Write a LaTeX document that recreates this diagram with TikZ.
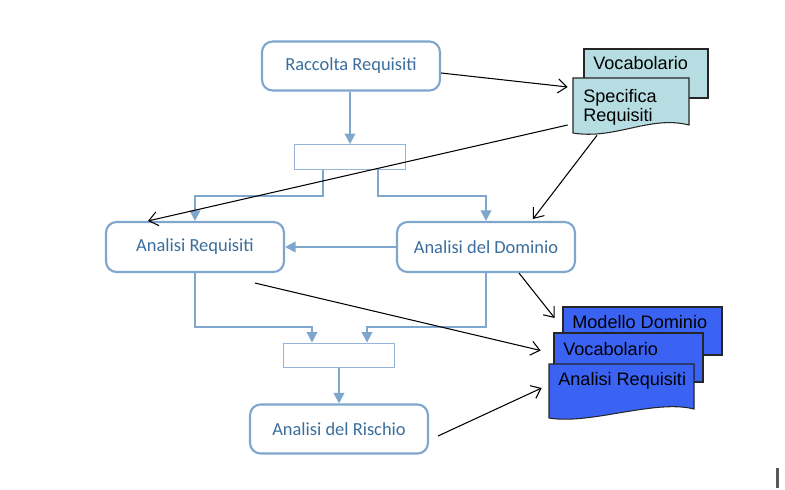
\documentclass[tikz,border=0pt]{standalone}
\usepackage{fontspec}
\setmainfont{Liberation Sans}
\newfontfamily\boxfont{Carlito}
\usetikzlibrary{arrows.meta,fit}

\definecolor{boxedge}{HTML}{7FA6CC}
\definecolor{boxink}{HTML}{3B6E9C}
\definecolor{barline}{HTML}{93B4D6}
\definecolor{paleteal}{HTML}{B6DEE2}
\definecolor{royal}{HTML}{3A63F4}

\tikzset{
  activity/.style={draw=boxedge, line width=1.2pt, rounded corners=6pt, fill=white,
    minimum width=3.56cm, minimum height=0.98cm, text=boxink,
    font=\boxfont\fontsize{10.5}{12}\selectfont},
  joinbar/.style={draw=barline, line width=0.8pt, fill=white,
    minimum width=2.22cm, minimum height=0.49cm},
  flow/.style={draw=boxedge, line width=1.1pt, -{Triangle[length=6pt,width=6pt]}},
  link/.style={black, line width=0.6pt, -{Straight Barb[length=5pt,width=8pt]}},
  sheet/.style={draw=black!85, line width=0.6pt},
  sheettext/.style={font=\fontsize{10.3}{11}\selectfont, align=left, inner sep=0pt},
  frame/.style={inner sep=0pt}
}

\begin{document}
\begin{tikzpicture}[x=0.02cm, y=-0.02cm]
  \useasboundingbox (0,0) rectangle (785,490);

  % Process boxes
  \node[activity] (rq) at (351,66) {Raccolta Requisiti};
  \node[activity, minimum height=1cm] (ar) at (195,247) {Analisi Requisiti};
  \node[activity, minimum height=1cm] (ad) at (486,247) {Analisi del Dominio};
  \node[activity] (rs) at (339,429) {Analisi del Rischio};

  % Fork / join bars
  \node[joinbar] (bar1) at (350,157) {};
  \node[joinbar] (bar2) at (339,355.5) {};

  % Flow
  \draw[flow] ([shift={(-1,0)}]rq.south) -- (bar1.north);
  \draw[flow] ([shift={(-27,0)}]bar1.south) -- ++(0,26) -| (ar.north);
  \draw[flow] ([shift={(28,0)}]bar1.south) -- ++(0,26) -| (ad.north);
  \draw[flow] (ad.west) -- (ar.east);
  \draw[flow] (ar.south) -- ++(0,54) -| ([shift={(-27,0)}]bar2.north);
  \draw[flow] (ad.south) -- ++(0,54) -| ([shift={(28,0)}]bar2.north);
  \draw[flow] (bar2.south) -- (rs.north);

  % Documents (input)
  \filldraw[sheet, fill=paleteal] (584,49) rectangle (708,98);
  \node[frame, fit={(584,49) (708,98)}] (voc) {};
  \node[sheettext, anchor=base west] (voctxt) at (593,70) {Vocabolario};
  \filldraw[sheet, fill=paleteal] (573,78) -- (689,78) -- (689,125)
    .. controls (650,115) and (615,140) .. (573,133) -- cycle;
  \node[frame, fit={(573,78) (689,133)}] (spec) {};
  \node[sheettext, anchor=north west] (spectxt) at (583,89) {Specifica\\Requisiti};

  % Documents (output)
  \filldraw[sheet, fill=royal] (563,307) rectangle (722,355);
  \node[frame, fit={(563,307) (722,355)}] (mdom) {};
  \node[sheettext, anchor=base west] (mdomtxt) at (572,328) {Modello Dominio};
  \filldraw[sheet, fill=royal] (554,333) rectangle (703,382);
  \node[frame, fit={(554,333) (703,382)}] (vocb) {};
  \node[sheettext, anchor=base west] (vocbtxt) at (563,355) {Vocabolario};
  \filldraw[sheet, fill=royal] (549,364) -- (694,364) -- (694,409)
    .. controls (655,399) and (590,425) .. (549,418) -- cycle;
  \node[frame, fit={(549,364) (694,418)}] (anreq) {};
  \node[sheettext, anchor=base west] (anreqtxt) at (558,385) {Analisi Requisiti};

  % Document links
  \draw[link] ([shift={(0,7)}]rq.east) -- ([shift={(-5,-18.5)}]spec.west);
  \draw[link] ([shift={(-5,19.5)}]spec.west) -- ([shift={(-47,0)}]ar.north);
  \draw[link] ([shift={(-34,2)}]spec.south) -- ([shift={(47,-2)}]ad.north);
  \draw[link] ([shift={(60,10)}]ar.south) -- ([shift={(-13,-7)}]vocb.west);
  \draw[link] ([shift={(33,0)}]ad.south) -- ([shift={(-8,-13)}]mdom.west);
  \draw[link] ([shift={(9,7)}]rs.east) -- ([shift={(-7,-3)}]anreq.west);

  % page mark
  \fill[black!65] (776,468) rectangle (779,488);
\end{tikzpicture}
\end{document}
